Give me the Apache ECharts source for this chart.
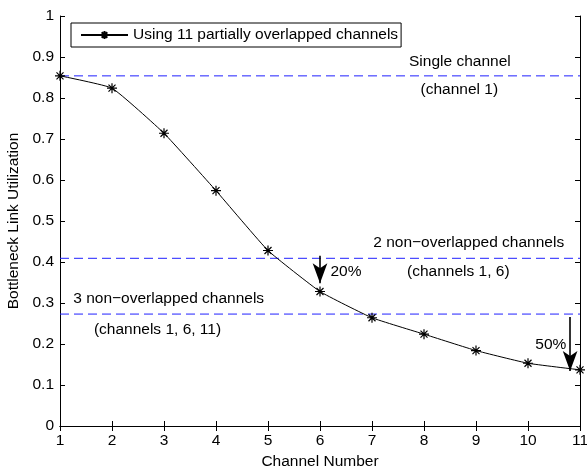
<!DOCTYPE html>
<html>
<head>
<meta charset="utf-8">
<script src="https://cdn.jsdelivr.net/npm/echarts@6/dist/echarts.min.js"></script>
<style>
html, body { margin: 0; padding: 0; background: #fff; }
#main { width: 587px; height: 467px; }
</style>
</head>
<body>
<div id="main"></div>
<script>
// data
const channels = [1, 2, 3, 4, 5, 6, 7, 8, 9, 10, 11];
const utilization = [0.854, 0.824, 0.714, 0.574, 0.428, 0.328, 0.264, 0.224, 0.184, 0.153, 0.137];
const seriesName = 'Using 11 partially overlapped channels';

// reference levels (dashed blue)
const singleChannel = 0.854;
const twoChannels = 0.409;
const threeChannels = 0.273;

// text notes, in data coordinates
const notes = [
    { text: 'Single channel', x: 8.69, y: 0.888 },
    { text: '(channel 1)', x: 8.68, y: 0.820 },
    { text: '2 non\u2212overlapped channels', x: 8.86, y: 0.446 },
    { text: '(channels 1, 6)', x: 8.66, y: 0.376 },
    { text: '3 non\u2212overlapped channels', x: 3.09, y: 0.310 },
    { text: '(channels 1, 6, 11)', x: 2.875, y: 0.234 },
    { text: '20%', x: 6.5, y: 0.376 },
    { text: '50%', x: 10.44, y: 0.198 }
];

// arrows: x, start y, end y
const arrows = [
    { x: 6, from: 0.415, to: 0.348 },
    { x: 10.81, from: 0.266, to: 0.134 }
];

const font = "'Liberation Sans', Arial, Helvetica, sans-serif";
const fs = 15.5;
const star = 'path://M0,-10L0,10M-10,0L10,0M-7,-7L7,7M-7,7L7,-7';

const chart = echarts.init(document.getElementById('main'));

const levelLine = (v) => ({
    type: 'line',
    data: [[channels[0], v], [channels[channels.length - 1], v]],
    symbol: 'none',
    silent: true,
    lineStyle: { color: '#2020ff', width: 1, type: [9, 5] },
    z: 1
});

const option = {
    animation: false,
    textStyle: { fontFamily: font },
    grid: { left: 60, right: 7, top: 16, bottom: 41, outerBoundsMode: 'none' },
    legend: {
        data: [seriesName],
        left: 71,
        top: 23,
        padding: [4, 3, 4, 9],
        itemWidth: 47,
        itemHeight: 10,
        borderColor: '#000',
        borderWidth: 1,
        borderRadius: 0,
        textStyle: { fontSize: fs, color: '#000', fontFamily: font }
    },
    xAxis: [
        {
            type: 'value', min: 1, max: 11, interval: 1,
            name: 'Channel Number',
            nameLocation: 'middle',
            nameGap: 25,
            nameTextStyle: { fontSize: fs, color: '#000', fontFamily: font },
            axisLine: { lineStyle: { color: '#000', width: 1 } },
            axisTick: { inside: true, length: 5, lineStyle: { color: '#000' } },
            axisLabel: { fontSize: fs, color: '#000', margin: 7, fontFamily: font },
            splitLine: { show: false }
        },
        {
            type: 'value', min: 1, max: 11, interval: 1, position: 'top',
            axisLine: { lineStyle: { color: '#000', width: 1 } },
            axisTick: { inside: true, length: 5, lineStyle: { color: '#000' } },
            axisLabel: { show: false },
            splitLine: { show: false }
        }
    ],
    yAxis: [
        {
            type: 'value', min: 0, max: 1, interval: 0.1,
            name: 'Bottleneck Link Utilization',
            nameLocation: 'middle',
            nameGap: 37,
            nameTextStyle: { fontSize: fs, color: '#000', fontFamily: font },
            axisLine: { show: true, lineStyle: { color: '#000', width: 1 } },
            axisTick: { show: true, inside: true, length: 5, lineStyle: { color: '#000' } },
            axisLabel: { fontSize: fs, color: '#000', margin: 6, fontFamily: font },
            splitLine: { show: false }
        },
        {
            type: 'value', min: 0, max: 1, interval: 0.1, position: 'right',
            axisLine: { show: true, lineStyle: { color: '#000', width: 1 } },
            axisTick: { show: true, inside: true, length: 5, lineStyle: { color: '#000' } },
            axisLabel: { show: false },
            splitLine: { show: false }
        }
    ],
    series: [
        levelLine(singleChannel),
        levelLine(twoChannels),
        levelLine(threeChannels),
        {
            name: seriesName,
            type: 'line',
            data: channels.map((c, i) => [c, utilization[i]]),
            smooth: 0.12,
            symbol: star,
            symbolSize: 10,
            showAllSymbol: true,
            lineStyle: { color: '#000', width: 1 },
            itemStyle: { color: '#000', borderColor: '#000', borderWidth: 1.2 },
            z: 3
        },
        {
            type: 'scatter',
            silent: true,
            symbolSize: 0,
            itemStyle: { color: '#000', opacity: 1 },
            data: notes.map(n => ({ name: n.text, value: [n.x, n.y] })),
            label: {
                show: true,
                position: [0, 0],
                align: 'center',
                verticalAlign: 'middle',
                formatter: '{b}',
                color: '#000',
                opacity: 1,
                textBorderWidth: 0,
                fontSize: fs,
                fontFamily: font
            },
            markLine: {
                silent: true,
                animation: false,
                label: { show: false },
                lineStyle: { color: '#000', width: 1.6, type: 'solid', opacity: 1 },
                data: arrows.map(a => [
                    { coord: [a.x, a.from], symbol: 'none' },
                    { coord: [a.x, a.to], symbol: 'arrow', symbolSize: [11, 20] }
                ])
            },
            z: 4
        }
    ]
};

chart.setOption(option);
</script>
</body>
</html>
